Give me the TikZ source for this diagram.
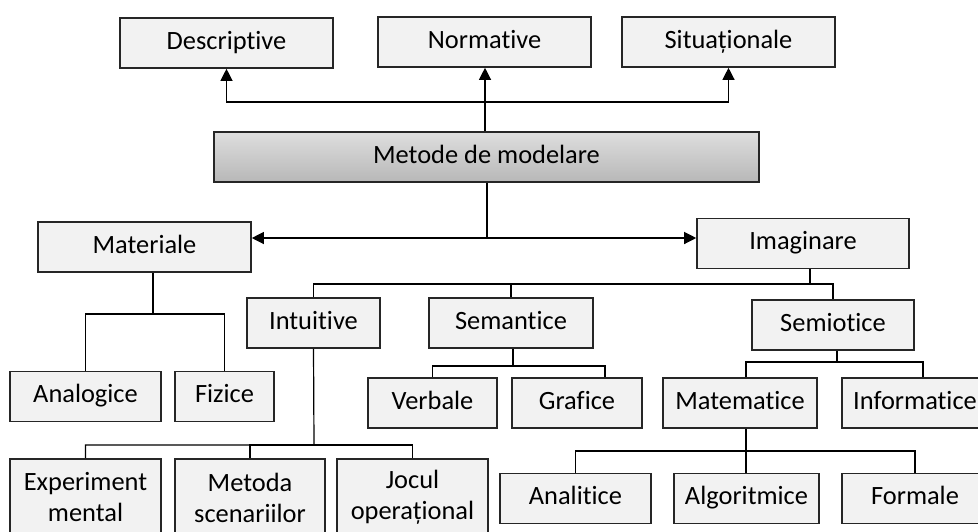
\documentclass[tikz,border=0pt]{standalone}
\usepackage{fontspec}
\setmainfont[Ligatures=NoCommon]{Carlito}
\usetikzlibrary{arrows.meta,positioning}

\begin{document}
\begin{tikzpicture}[x=0.5pt,y=-0.5pt,line width=0.6pt,
	basebox/.style={draw=black!85,line width=0.8pt,fill=black!5,inner sep=0pt,align=center,font=\fontsize{13.2}{15.5}\selectfont},
	box/.style={basebox,minimum height=25pt,text height=9.2pt,text depth=2.8pt},
	twobox/.style={basebox,minimum height=38.5pt},
	rootbox/.style={box,top color=black!13,bottom color=black!28},
	arr/.style={-{Triangle[length=6pt,width=6pt]}}]
	\useasboundingbox (0,0) rectangle (978,531);
	\clip (0,0) rectangle (978,531);

	\node(desc) [box,minimum width=106.5pt] at (226.5,43) {Descriptive};
	\node(norm) [box,minimum width=106.5pt] at (484.5,42) {Normative};
	\node(situ) [box,minimum width=106.5pt] at (728.5,42) {Situaționale};
	\node(meto) [rootbox,minimum width=272.5pt] at (486.5,157) {Metode de modelare};
	\node(mat) [box,minimum width=106.5pt] at (144.5,247) {Materiale};
	\node(imag) [box,minimum width=106pt] at (803,243.5) {Imaginare};
	\node(intu) [box,minimum width=66.5pt] at (313.5,323) {Intuitive};
	\node(sema) [box,minimum width=82pt] at (511,323) {Semantice};
	\node(semio) [box,minimum width=81pt] at (833,325) {Semiotice};
	\node(analog) [box,minimum width=75.5pt] at (85.5,396.5) {Analogice};
	\node(fiz) [box,minimum width=49.5pt] at (224.5,396.5) {Fizice};
	\node(verb) [box,minimum width=64.5pt] at (432.5,403) {Verbale};
	\node(graf) [box,minimum width=65pt] at (577,403) {Grafice};
	\node(matem) [box,minimum width=77pt] at (740,403) {Matematice};
	\node(info) [box,minimum width=73pt] at (915,403) {Informatice};
	\node(exper) [twobox,minimum width=75.5pt] at (85.5,497.5) {Experiment\\mental};
	\node(scen) [twobox,minimum width=75pt] at (250,497.5) {Metoda\\scenariilor};
	\node(joc) [twobox,minimum width=75.5pt] at (412.5,497.5) {Jocul\\operațional};
	\node(analit) [box,minimum width=75.5pt] at (575.5,498.5) {Analitice};
	\node(algo) [box,minimum width=72.5pt] at (746.5,498.5) {Algoritmice};
	\node(form) [box,minimum width=73pt] at (915,498.5) {Formale};

	\coordinate(h1) at (485,102);
	\coordinate(h2) at (487,238);
	\coordinate(j1) at (153,314);
	\coordinate(j2) at (810,284);
	\coordinate(j3) at (513,366);
	\coordinate(j4) at (314,445);
	\coordinate(j5) at (837,362);
	\coordinate(j6) at (746,451);

	\draw[arr](h1 |- meto.north) --(h1 |- norm.south);
	\draw[arr](h1) -|(desc.south);
	\draw[arr](h1) -|(situ.south);
	\draw(h2 |- meto.south) --(h2);
	\draw[arr](h2) --(h2 -| mat.east);
	\draw[arr](h2) --(h2 -| imag.west);
	\draw(j1 |- mat.south) --(j1) -|(analog.north);
	\draw(j1) -|(fiz.north);
	\draw(j2 |- imag.south) --(j2) -|(intu.north);
	\draw(j2) -|(sema.north);
	\draw(j2) -|(semio.north);
	\draw(sema.south -| j3) --(j3) -|(verb.north);
	\draw(j3) -|([xshift=14pt]graf.north);
	\draw(intu.south) --(j4) -|(exper.north);
	\draw(j4) -|(scen.north);
	\draw(j4) -|(joc.north);
	\draw(semio.south -| j5) --(j5) -|([xshift=3pt]matem.north);
	\draw(j5) -|([xshift=4pt]info.north);
	\draw(matem.south -| j6) --(j6) -|(analit.north);
	\draw(j6) --(j6 |- algo.north);
	\draw(j6) -|(form.north);
\end{tikzpicture}
\end{document}
